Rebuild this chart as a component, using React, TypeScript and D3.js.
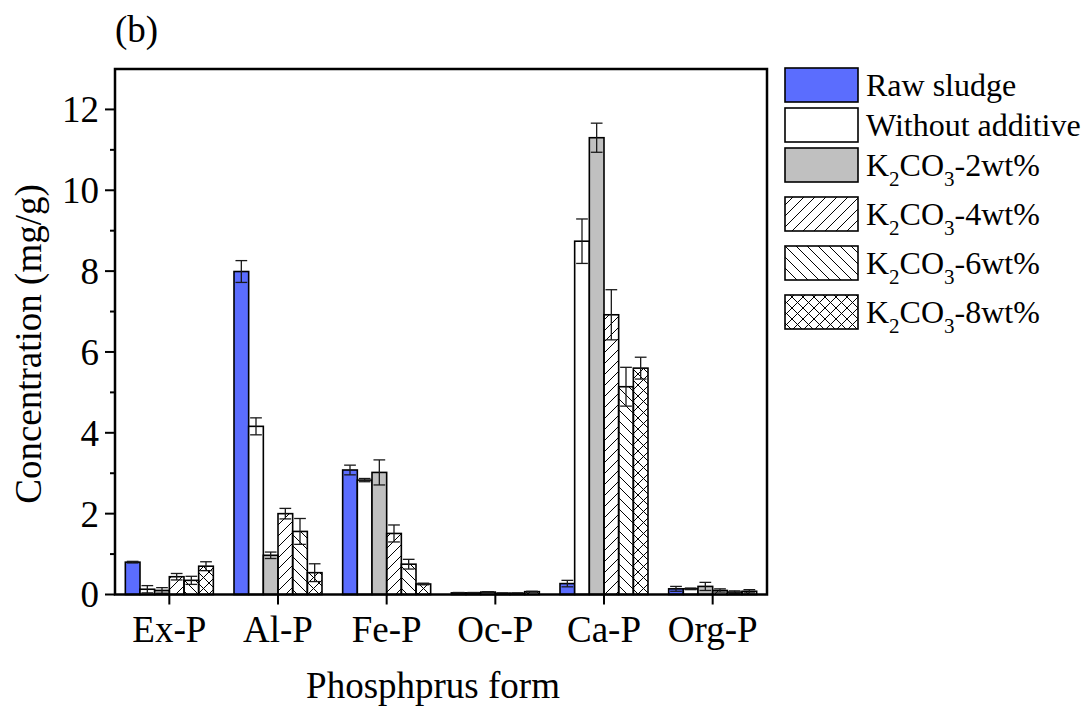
import React from "react";
import * as d3 from "d3";

// phosphorus fractions (mg/g)
const categories = ["Ex-P", "Al-P", "Fe-P", "Oc-P", "Ca-P", "Org-P"];
const seriesKeys = ["raw", "none", "k2", "k4", "k6", "k8"];

const rawSludge = [0.8, 7.99, 3.08, 0.04, 0.27, 0.14];
const rawSludgeErr = [0.02, 0.27, 0.12, 0.01, 0.08, 0.06];
const withoutAdditive = [0.13, 4.16, 2.83, 0.04, 8.74, 0.14];
const withoutAdditiveErr = [0.09, 0.21, 0.04, 0.01, 0.55, 0.02];
const k2co3_2 = [0.1, 0.97, 3.02, 0.06, 11.3, 0.2];
const k2co3_2Err = [0.07, 0.08, 0.31, 0.01, 0.36, 0.1];
const k2co3_4 = [0.44, 2.0, 1.51, 0.03, 6.92, 0.1];
const k2co3_4Err = [0.08, 0.13, 0.21, 0.01, 0.62, 0.04];
const k2co3_6 = [0.35, 1.56, 0.75, 0.03, 5.14, 0.06];
const k2co3_6Err = [0.1, 0.32, 0.12, 0.01, 0.48, 0.03];
const k2co3_8 = [0.7, 0.54, 0.26, 0.07, 5.6, 0.08];
const k2co3_8Err = [0.11, 0.22, 0.02, 0.01, 0.27, 0.04];

const yMajorTicks = [0, 2, 4, 6, 8, 10, 12];
const yMinorTicks = [1, 3, 5, 7, 9, 11];

const seriesValues = [rawSludge, withoutAdditive, k2co3_2, k2co3_4, k2co3_6, k2co3_8];
const seriesErrors = [rawSludgeErr, withoutAdditiveErr, k2co3_2Err, k2co3_4Err, k2co3_6Err, k2co3_8Err];
const seriesFills = ["#5b6dfe", "#ffffff", "#c0c0c0", "url(#hatchFwd)", "url(#hatchBack)", "url(#hatchCross)"];
const legendLabels = [
  { main: "Raw sludge" },
  { main: "Without additive" },
  { sub: "-2wt%" },
  { sub: "-4wt%" },
  { sub: "-6wt%" },
  { sub: "-8wt%" },
];

const FONT = "'Liberation Serif', 'Times New Roman', serif";

export default function App() {
  const width = 1087;
  const height = 706;
  const left = 115;
  const right = 767;
  const top = 69;
  const bottom = 594.5;

  // Category scale
  const x0 = d3.scaleBand().domain(categories).range([left, right]).padding(0);
  const groupW = 88;
  const x1 = d3
    .scaleBand()
    .domain(seriesKeys)
    .range([(x0.bandwidth() - groupW) / 2, (x0.bandwidth() + groupW) / 2])
    .padding(0);

  // Value scale
  const y = d3.scaleLinear().domain([0, 13]).range([bottom, top]);

  const barW = x1.bandwidth();
  const capW = barW * 0.8;

  const legendTops = [68, 108, 148, 197, 246, 295];
  const legendX = 785;
  const legendBoxW = 73;
  const legendBoxH = 34;

  return (
    <svg
      width={width}
      height={height}
      style={{ position: "absolute", left: 0, top: 0, background: "#fff" }}
      fontFamily={FONT}
    >
      <defs>
        <pattern id="hatchFwd" patternUnits="userSpaceOnUse" width={11} height={11}>
          <path d="M-1,1 l2,-2 M0,11 l11,-11 M10,12 l2,-2" stroke="#000" strokeWidth={1} />
        </pattern>
        <pattern id="hatchBack" patternUnits="userSpaceOnUse" width={11} height={11}>
          <path d="M-1,10 l2,2 M0,0 l11,11 M10,-1 l2,2" stroke="#000" strokeWidth={1} />
        </pattern>
        <pattern id="hatchCross" patternUnits="userSpaceOnUse" width={11} height={11}>
          <path
            d="M-1,1 l2,-2 M0,11 l11,-11 M10,12 l2,-2 M-1,10 l2,2 M0,0 l11,11 M10,-1 l2,2"
            stroke="#000"
            strokeWidth={1}
          />
        </pattern>
      </defs>

      {/* panel label */}
      <text x={115} y={42} fontSize={37}>(b)</text>

      {/* bars */}
      {seriesValues.map((vals, s) => (
        <g key={seriesKeys[s]}>
          {vals.map((v, i) => (
            <rect
              key={i}
              x={(x0(categories[i]) as number) + (x1(seriesKeys[s]) as number)}
              y={y(v)}
              width={barW}
              height={y(0) - y(v)}
              fill={seriesFills[s]}
              stroke="#000"
              strokeWidth={1.6}
            />
          ))}
        </g>
      ))}

      {/* error bars */}
      <g stroke="#1a1a1a" strokeWidth={1.3}>
        {seriesValues.map((vals, s) =>
          vals.map((v, i) => {
            const cx = (x0(categories[i]) as number) + (x1(seriesKeys[s]) as number) + barW / 2;
            const e = seriesErrors[s][i];
            return (
              <g key={`${s}-${i}`}>
                <line x1={cx} x2={cx} y1={y(v + e)} y2={y(Math.max(0, v - e))} />
                <line x1={cx - capW / 2} x2={cx + capW / 2} y1={y(v + e)} y2={y(v + e)} />
                <line x1={cx - capW / 2} x2={cx + capW / 2} y1={y(Math.max(0, v - e))} y2={y(Math.max(0, v - e))} />
              </g>
            );
          })
        )}
      </g>

      {/* frame */}
      <rect x={left} y={top} width={right - left} height={bottom - top} fill="none" stroke="#000" strokeWidth={2.5} />

      {/* y axis ticks */}
      {yMajorTicks.map((t) => (
        <g key={t}>
          <line x1={left - 10} x2={left} y1={y(t)} y2={y(t)} stroke="#000" strokeWidth={2} />
          <text x={99} y={y(t)} dy="0.35em" textAnchor="end" fontSize={37}>
            {t}
          </text>
        </g>
      ))}
      {yMinorTicks.map((t) => (
        <line key={t} x1={left - 5} x2={left} y1={y(t)} y2={y(t)} stroke="#000" strokeWidth={2} />
      ))}

      {/* x axis ticks */}
      {categories.map((c) => {
        const cx = (x0(c) as number) + x0.bandwidth() / 2;
        return (
          <g key={c}>
            <line x1={cx} x2={cx} y1={bottom} y2={bottom + 10} stroke="#000" strokeWidth={2} />
            <text x={cx} y={642} textAnchor="middle" fontSize={37}>
              {c}
            </text>
          </g>
        );
      })}

      {/* axis titles */}
      <text x={433} y={698} textAnchor="middle" fontSize={37}>
        Phosphprus form
      </text>
      <text transform="translate(41,344) rotate(-90)" textAnchor="middle" fontSize={37}>
        Concentration (mg/g)
      </text>

      {/* legend */}
      {legendLabels.map((l, i) => {
        const ty = legendTops[i];
        return (
          <g key={i}>
            <rect
              x={legendX}
              y={ty}
              width={legendBoxW}
              height={legendBoxH}
              fill={seriesFills[i]}
              stroke="#000"
              strokeWidth={1.6}
            />
            <text x={866} y={ty + legendBoxH / 2 + 11} fontSize={32}>
              {l.main ? (
                l.main
              ) : (
                <>
                  <tspan>K</tspan>
                  <tspan dy={10} fontSize={21}>2</tspan>
                  <tspan dy={-10}>CO</tspan>
                  <tspan dy={10} fontSize={21}>3</tspan>
                  <tspan dy={-10}>{l.sub}</tspan>
                </>
              )}
            </text>
          </g>
        );
      })}
    </svg>
  );
}
